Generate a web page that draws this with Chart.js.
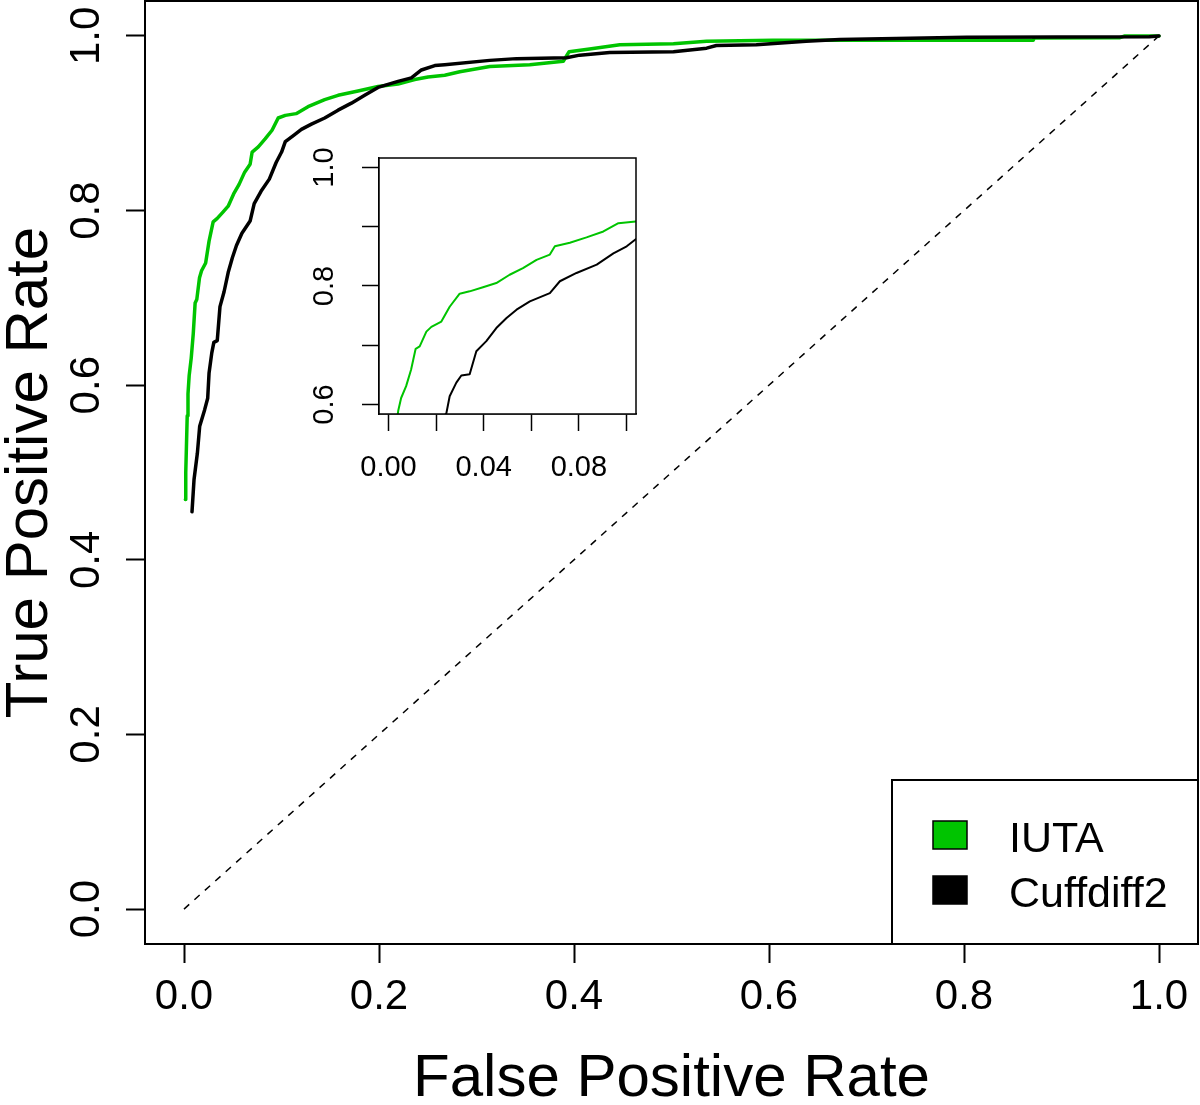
<!DOCTYPE html>
<html><head><meta charset="utf-8">
<script src="https://cdn.jsdelivr.net/npm/chart.js@4.4.1/dist/chart.umd.min.js"></script>
<style>
html,body{margin:0;padding:0;background:#fff;}
#wrap{position:relative;width:1200px;height:1105px;overflow:hidden;}
#main{position:absolute;left:0;top:0;}
#inset{position:absolute;left:290px;top:140px;}
</style></head><body>
<div id="wrap"><canvas id="main" width="1200" height="1105"></canvas><canvas id="inset" width="360" height="350"></canvas></div>
<script>
// ---------- data ----------
const seriesNames = ['IUTA', 'Cuffdiff2'];
const seriesColors = ['#00C400', '#000000'];

const iutaFPR = [0.0014,0.0018,0.0025,0.0033,0.0041,0.0053,0.0074,0.0095,0.0114,0.0131,0.0159,0.0180,0.0222,0.0257,0.0299,0.0341,0.0397,0.0453,0.0509,0.0565,0.0622,0.0678,0.0699,0.0762,0.0832,0.0903,0.0966,0.1039,0.1150,0.1272,0.1443,0.1580,0.1785,0.1990,0.2195,0.2366,0.2503,0.2674,0.2828,0.3136,0.3546,0.3890,0.3950,0.4160,0.4470,0.5020,0.5360,0.6040,0.8710,0.8720,0.9600,0.9650,1.0000];
const iutaTPR = [0.469,0.500,0.530,0.565,0.590,0.611,0.631,0.659,0.694,0.698,0.723,0.731,0.740,0.765,0.787,0.791,0.798,0.805,0.819,0.830,0.844,0.853,0.867,0.873,0.882,0.892,0.906,0.909,0.911,0.919,0.927,0.932,0.937,0.942,0.945,0.950,0.953,0.955,0.959,0.965,0.967,0.971,0.982,0.985,0.990,0.991,0.994,0.995,0.995,0.9975,0.998,1.000,1.000];

const cuffFPR = [0.0082,0.0103,0.0137,0.0161,0.0212,0.0243,0.0257,0.0285,0.0306,0.0341,0.0369,0.0411,0.0453,0.0496,0.0538,0.0594,0.0678,0.0720,0.0790,0.0875,0.0945,0.1001,0.1039,0.1135,0.1204,0.1307,0.1443,0.1580,0.1717,0.1853,0.1990,0.2195,0.2332,0.2435,0.2572,0.2674,0.3136,0.3410,0.3923,0.4059,0.4367,0.5020,0.5360,0.5460,0.5870,0.6380,0.6725,0.8026,0.9900,1.0000];
const cuffTPR = [0.455,0.492,0.522,0.553,0.572,0.585,0.614,0.637,0.649,0.651,0.690,0.707,0.729,0.746,0.760,0.774,0.788,0.808,0.822,0.836,0.855,0.867,0.879,0.887,0.893,0.899,0.906,0.915,0.923,0.932,0.941,0.948,0.952,0.961,0.966,0.967,0.972,0.974,0.975,0.978,0.981,0.982,0.986,0.989,0.990,0.994,0.996,0.9985,0.999,1.000];

const chanceFPR = [0, 1];
const chanceTPR = [0, 1];

const mainTicks = [0, 0.2, 0.4, 0.6, 0.8, 1.0];
const mainTickLabels = ['0.0', '0.2', '0.4', '0.6', '0.8', '1.0'];
const insetXTicks = [0, 0.02, 0.04, 0.06, 0.08, 0.10];
const insetXLabels = ['0.00', '', '0.04', '', '0.08', ''];
const insetYTicks = [0.6, 0.7, 0.8, 0.9, 1.0];
const insetYLabels = ['0.6', '', '0.8', '', '1.0'];

const xTitle = 'False Positive Rate';
const yTitle = 'True Positive Rate';

// ---------- helpers ----------
const FONT = "'Liberation Sans', Arial, Helvetica, sans-serif";
const pts = (xs, ys) => xs.map((x, i) => ({x: x, y: ys[i]}));

function curveSets(width) {
  return [
    {label: seriesNames[1], data: pts(cuffFPR, cuffTPR), borderColor: seriesColors[1], backgroundColor: seriesColors[1],
     borderWidth: width, pointRadius: 0, showLine: true, tension: 0, borderCapStyle: 'round', borderJoinStyle: 'round', order: 1, clip: 0, isSeries: true},
    {label: seriesNames[0], data: pts(iutaFPR, iutaTPR), borderColor: seriesColors[0], backgroundColor: seriesColors[0],
     borderWidth: width, pointRadius: 0, showLine: true, tension: 0, borderCapStyle: 'round', borderJoinStyle: 'round', order: 2, clip: 0, isSeries: true}
  ];
}

function rotatedYLabels(chart, ticks, labels, x, size) {
  const ctx = chart.ctx, ys = chart.scales.y;
  ctx.save();
  ctx.fillStyle = '#000';
  ctx.font = size + 'px ' + FONT;
  ctx.textAlign = 'center';
  ctx.textBaseline = 'middle';
  ticks.forEach((v, i) => {
    if (!labels[i]) return;
    const y = ys.getPixelForValue(v);
    ctx.save();
    ctx.translate(x, y);
    ctx.rotate(-Math.PI / 2);
    ctx.fillText(labels[i], 0, 0);
    ctx.restore();
  });
  ctx.restore();
}

// ---------- main chart ----------
const mainPlugin = {
  id: 'mainDeco',
  afterDraw(chart) {
    const ctx = chart.ctx, a = chart.chartArea;
    ctx.save();
    ctx.strokeStyle = '#000';
    ctx.lineWidth = 2;
    ctx.strokeRect(a.left, a.top, a.right - a.left, a.bottom - a.top);
    ctx.restore();
    rotatedYLabels(chart, mainTicks, mainTickLabels, 87, 42);
    // legend box (bottom-right, inside plot)
    const lw = 306, lh = 164;
    const lx = a.right - lw, ly = a.bottom - lh;
    ctx.save();
    ctx.fillStyle = '#fff';
    ctx.fillRect(lx, ly, lw, lh);
    ctx.strokeStyle = '#000';
    ctx.lineWidth = 2;
    ctx.strokeRect(lx, ly, lw, lh);
    const items = chart.data.datasets.filter(d => d.isSeries).slice().reverse();
    ctx.font = '43px ' + FONT;
    ctx.textAlign = 'left';
    ctx.textBaseline = 'alphabetic';
    items.forEach((d, i) => {
      const sy = ly + 41 + i * 55;
      ctx.fillStyle = d.backgroundColor;
      ctx.fillRect(lx + 41, sy, 34, 28);
      ctx.lineWidth = 1.5;
      ctx.strokeStyle = '#000';
      ctx.strokeRect(lx + 41, sy, 34, 28);
      ctx.fillStyle = '#000';
      ctx.fillText(d.label, lx + 117, sy + 31);
    });
    ctx.restore();
  }
};

new Chart(document.getElementById('main'), {
  type: 'scatter',
  data: {
    datasets: [
      ...curveSets(3.5),
      {label: 'chance', data: pts(chanceFPR, chanceTPR), borderColor: '#000', borderWidth: 1.5, borderDash: [7, 7],
       pointRadius: 0, showLine: true, tension: 0, order: 3}
    ]
  },
  options: {
    responsive: false, animation: false, devicePixelRatio: 1,
    layout: {padding: {left: 0, right: 2, top: 1, bottom: 0}},
    plugins: {legend: {display: false}, tooltip: {enabled: false}},
    scales: {
      x: {
        type: 'linear', min: -0.04, max: 1.04,
        afterBuildTicks: s => { s.ticks = mainTicks.map(v => ({value: v})); },
        afterFit: s => { s.height = 161; },
        ticks: {callback: (v, i) => mainTickLabels[i], font: {family: FONT, size: 42}, color: '#000',
                padding: 9, maxRotation: 0, minRotation: 0, autoSkip: false},
        grid: {display: true, drawOnChartArea: false, drawTicks: true, tickLength: 19, tickWidth: 2, tickColor: '#000'},
        border: {display: true, color: '#000', width: 2},
        title: {display: true, text: xTitle, font: {family: FONT, size: 60, lineHeight: 0.85}, color: '#000', padding: 0}
      },
      y: {
        type: 'linear', min: -0.04, max: 1.04,
        afterBuildTicks: s => { s.ticks = mainTicks.map(v => ({value: v})); },
        afterFit: s => { s.width = 145; },
        ticks: {callback: () => '', font: {family: FONT, size: 1}, autoSkip: false, padding: 0},
        grid: {display: true, drawOnChartArea: false, drawTicks: true, tickLength: 19, tickWidth: 2, tickColor: '#000'},
        border: {display: true, color: '#000', width: 2},
        title: {display: true, text: yTitle, font: {family: FONT, size: 60, lineHeight: 0.9}, color: '#000', padding: {top: 3, bottom: 0}}
      }
    }
  },
  plugins: [mainPlugin]
});

// ---------- inset chart ----------
const insetPlugin = {
  id: 'insetDeco',
  beforeDatasetsDraw(chart) {
    const ctx = chart.ctx, a = chart.chartArea;
    ctx.save();
    ctx.fillStyle = '#fff';
    ctx.fillRect(a.left, a.top, a.right - a.left, a.bottom - a.top);
    ctx.restore();
  },
  afterDraw(chart) {
    const ctx = chart.ctx, a = chart.chartArea;
    ctx.save();
    ctx.strokeStyle = '#000';
    ctx.lineWidth = 1.5;
    ctx.strokeRect(a.left, a.top, a.right - a.left, a.bottom - a.top);
    ctx.restore();
    rotatedYLabels(chart, insetYTicks, insetYLabels, 35, 29);
  }
};

new Chart(document.getElementById('inset'), {
  type: 'scatter',
  data: {datasets: curveSets(2)},
  options: {
    responsive: false, animation: false, devicePixelRatio: 1,
    layout: {padding: {left: 0, right: 14, top: 18, bottom: 0}},
    plugins: {legend: {display: false}, tooltip: {enabled: false}},
    scales: {
      x: {
        type: 'linear', min: -0.004, max: 0.104,
        afterBuildTicks: s => { s.ticks = insetXTicks.map(v => ({value: v})); },
        afterFit: s => { s.height = 76; },
        ticks: {callback: (v, i) => insetXLabels[i], font: {family: FONT, size: 29}, color: '#000',
                padding: 20, maxRotation: 0, minRotation: 0, autoSkip: false},
        grid: {display: true, drawOnChartArea: false, drawTicks: true, tickLength: 17, tickWidth: 1.5, tickColor: '#000'},
        border: {display: true, color: '#000', width: 1.5}
      },
      y: {
        type: 'linear', min: 0.584, max: 1.016,
        afterBuildTicks: s => { s.ticks = insetYTicks.map(v => ({value: v})); },
        afterFit: s => { s.width = 89; },
        ticks: {callback: () => '', font: {family: FONT, size: 1}, autoSkip: false, padding: 0},
        grid: {display: true, drawOnChartArea: false, drawTicks: true, tickLength: 17, tickWidth: 1.5, tickColor: '#000'},
        border: {display: true, color: '#000', width: 1.5}
      }
    }
  },
  plugins: [insetPlugin]
});
</script>
</body></html>
